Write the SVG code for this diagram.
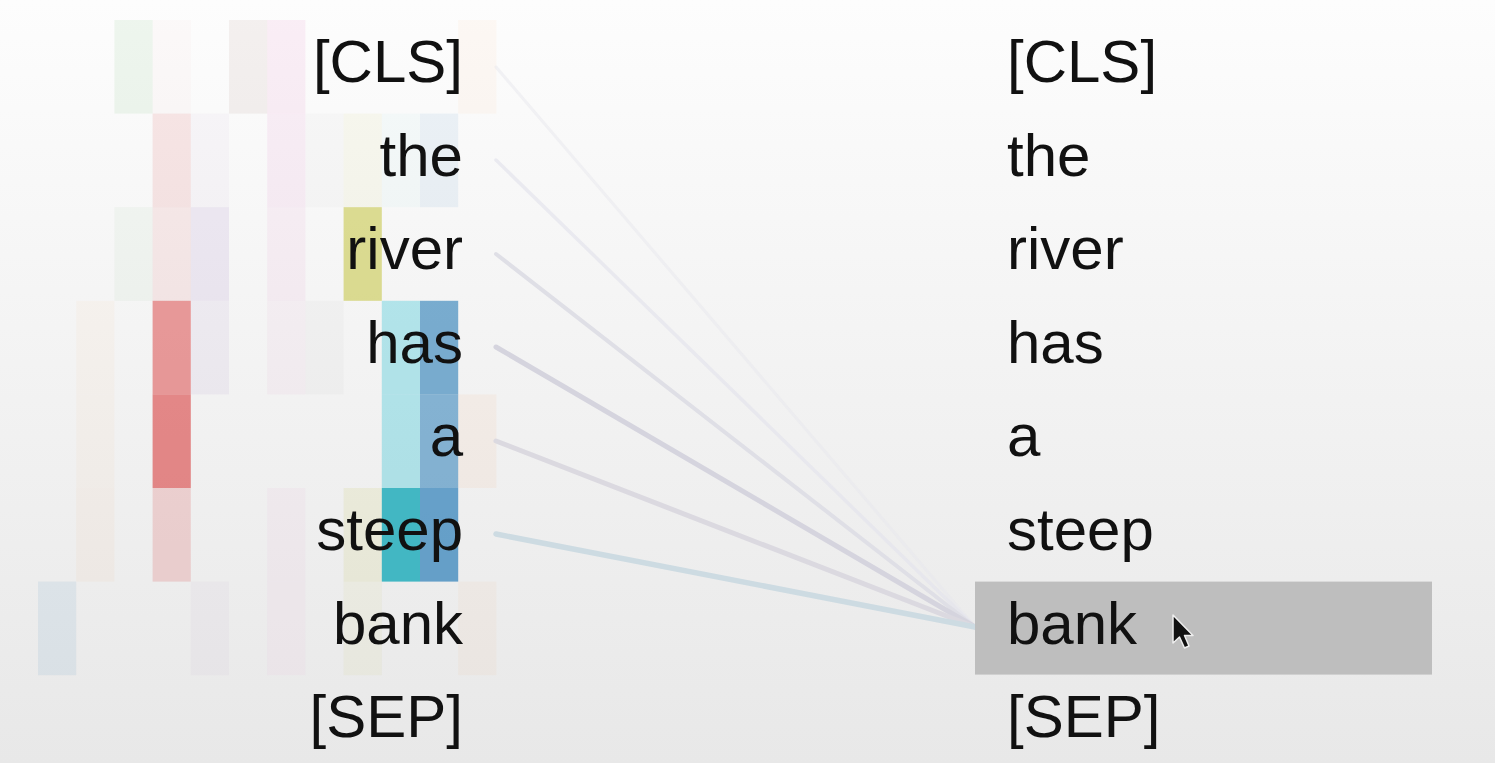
<svg xmlns="http://www.w3.org/2000/svg" width="1495" height="763" viewBox="0 0 1495 763">
<defs>
<linearGradient id="bg" x1="0" y1="0" x2="0" y2="1">
<stop offset="0" stop-color="#fdfdfd"/>
<stop offset="1" stop-color="#e8e8e8"/>
</linearGradient>
<style>
.tok{font-family:"Liberation Sans",Arial,sans-serif;font-size:60px;fill:#111;}
.l{text-anchor:end;}
.conn{fill:none;stroke-linecap:round;}
</style>
</defs>
<rect x="0" y="0" width="1495" height="763" fill="url(#bg)"/>

<g id="heads">
<rect x="114.4" y="20" width="38.2" height="93.6" fill="#2ca02c" fill-opacity="0.07"/>
<rect x="152.6" y="20" width="38.2" height="93.6" fill="#d62728" fill-opacity="0.02"/>
<rect x="229" y="20" width="38.2" height="93.6" fill="#8c564b" fill-opacity="0.08"/>
<rect x="267.2" y="20" width="38.2" height="93.6" fill="#e377c2" fill-opacity="0.11"/>
<rect x="458.2" y="20" width="38.2" height="93.6" fill="#ff7f0e" fill-opacity="0.04"/>
<rect x="152.6" y="113.6" width="38.2" height="93.6" fill="#d62728" fill-opacity="0.1"/>
<rect x="190.8" y="113.6" width="38.2" height="93.6" fill="#9467bd" fill-opacity="0.04"/>
<rect x="267.2" y="113.6" width="38.2" height="93.6" fill="#e377c2" fill-opacity="0.1"/>
<rect x="305.4" y="113.6" width="38.2" height="93.6" fill="#7f7f7f" fill-opacity="0.03"/>
<rect x="343.6" y="113.6" width="38.2" height="93.6" fill="#bcbd22" fill-opacity="0.06"/>
<rect x="381.8" y="113.6" width="38.2" height="93.6" fill="#17becf" fill-opacity="0.03"/>
<rect x="420" y="113.6" width="38.2" height="93.6" fill="#1f77b4" fill-opacity="0.07"/>
<rect x="114.4" y="207.2" width="38.2" height="93.6" fill="#2ca02c" fill-opacity="0.04"/>
<rect x="152.6" y="207.2" width="38.2" height="93.6" fill="#d62728" fill-opacity="0.08"/>
<rect x="190.8" y="207.2" width="38.2" height="93.6" fill="#9467bd" fill-opacity="0.12"/>
<rect x="267.2" y="207.2" width="38.2" height="93.6" fill="#e377c2" fill-opacity="0.08"/>
<rect x="343.6" y="207.2" width="38.2" height="93.6" fill="#bcbd22" fill-opacity="0.48"/>
<rect x="76.2" y="300.8" width="38.2" height="93.6" fill="#ff7f0e" fill-opacity="0.03"/>
<rect x="152.6" y="300.8" width="38.2" height="93.6" fill="#d62728" fill-opacity="0.45"/>
<rect x="190.8" y="300.8" width="38.2" height="93.6" fill="#9467bd" fill-opacity="0.07"/>
<rect x="267.2" y="300.8" width="38.2" height="93.6" fill="#e377c2" fill-opacity="0.06"/>
<rect x="305.4" y="300.8" width="38.2" height="93.6" fill="#7f7f7f" fill-opacity="0.04"/>
<rect x="381.8" y="300.8" width="38.2" height="93.6" fill="#17becf" fill-opacity="0.3"/>
<rect x="420" y="300.8" width="38.2" height="93.6" fill="#1f77b4" fill-opacity="0.58"/>
<rect x="76.2" y="394.4" width="38.2" height="93.6" fill="#ff7f0e" fill-opacity="0.03"/>
<rect x="152.6" y="394.4" width="38.2" height="93.6" fill="#d62728" fill-opacity="0.53"/>
<rect x="381.8" y="394.4" width="38.2" height="93.6" fill="#17becf" fill-opacity="0.3"/>
<rect x="420" y="394.4" width="38.2" height="93.6" fill="#1f77b4" fill-opacity="0.52"/>
<rect x="458.2" y="394.4" width="38.2" height="93.6" fill="#ff7f0e" fill-opacity="0.05"/>
<rect x="76.2" y="488" width="38.2" height="93.6" fill="#ff7f0e" fill-opacity="0.04"/>
<rect x="152.6" y="488" width="38.2" height="93.6" fill="#d62728" fill-opacity="0.16"/>
<rect x="267.2" y="488" width="38.2" height="93.6" fill="#e377c2" fill-opacity="0.05"/>
<rect x="343.6" y="488" width="38.2" height="93.6" fill="#bcbd22" fill-opacity="0.1"/>
<rect x="381.8" y="488" width="38.2" height="93.6" fill="#17a9b8" fill-opacity="0.8"/>
<rect x="420" y="488" width="38.2" height="93.6" fill="#1f77b4" fill-opacity="0.66"/>
<rect x="38" y="581.6" width="38.2" height="93.6" fill="#1f77b4" fill-opacity="0.08"/>
<rect x="190.8" y="581.6" width="38.2" height="93.6" fill="#9467bd" fill-opacity="0.04"/>
<rect x="267.2" y="581.6" width="38.2" height="93.6" fill="#e377c2" fill-opacity="0.05"/>
<rect x="343.6" y="581.6" width="38.2" height="93.6" fill="#bcbd22" fill-opacity="0.06"/>
<rect x="458.2" y="581.6" width="38.2" height="93.6" fill="#ff7f0e" fill-opacity="0.04"/>
</g>

<g id="connectors">
<line class="conn" x1="496" y1="67" x2="975" y2="627" stroke="#e8e8ee" stroke-width="3" stroke-opacity="0.5"/>
<line class="conn" x1="496" y1="160" x2="975" y2="627" stroke="#e4e4ec" stroke-width="3.5" stroke-opacity="0.7"/>
<line class="conn" x1="496" y1="254" x2="975" y2="627" stroke="#dfdfe6" stroke-width="4"/>
<line class="conn" x1="496" y1="347" x2="975" y2="627" stroke="#d5d4de" stroke-width="5"/>
<line class="conn" x1="496" y1="441" x2="975" y2="627" stroke="#dbd9e0" stroke-width="5"/>
<line class="conn" x1="496" y1="534" x2="975" y2="627" stroke="#cddbe2" stroke-width="5.5"/>
</g>

<g id="left-tokens">
<g id="l-cls"><text class="tok l" x="463" y="82">[CLS]</text></g>
<g id="l-the"><text class="tok l" x="463" y="175.6">the</text></g>
<g id="l-river"><text class="tok l" x="463" y="269.2">river</text></g>
<g id="l-has"><text class="tok l" x="463" y="362.8">has</text></g>
<g id="l-a"><text class="tok l" x="463" y="456.4">a</text></g>
<g id="l-steep"><text class="tok l" x="463" y="550">steep</text></g>
<g id="l-bank"><text class="tok l" x="463" y="643.6">bank</text></g>
<g id="l-sep"><text class="tok l" x="463" y="737.2">[SEP]</text></g>
</g>

<g id="right-tokens">
<g id="r-cls"><text class="tok" x="1007" y="82">[CLS]</text></g>
<g id="r-the"><text class="tok" x="1007" y="175.6">the</text></g>
<g id="r-river"><text class="tok" x="1007" y="269.2">river</text></g>
<g id="r-has"><text class="tok" x="1007" y="362.8">has</text></g>
<g id="r-a"><text class="tok" x="1007" y="456.4">a</text></g>
<g id="r-steep"><text class="tok" x="1007" y="550">steep</text></g>
<g id="r-bank">
<rect x="975" y="581.6" width="457" height="93" fill="#bebebe"/>
<text class="tok" x="1007" y="643.6">bank</text>
</g>
<g id="r-sep"><text class="tok" x="1007" y="737.2">[SEP]</text></g>
</g>

<g id="cursor">
<path d="M1173,615 L1173,643 L1179.5,637 L1184.5,648 L1189,646 L1184.5,635.5 L1193,635.5 Z" fill="#111" stroke="#eee" stroke-width="1.5" stroke-linejoin="round"/>
</g>
</svg>
